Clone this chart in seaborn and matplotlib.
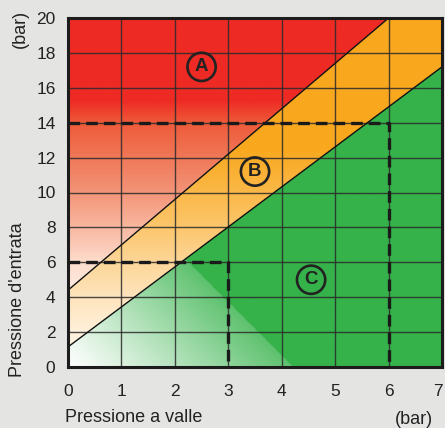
import numpy as np
import matplotlib.pyplot as plt
import seaborn as sns
from matplotlib.colors import to_rgb
from matplotlib.patches import Polygon
from matplotlib.transforms import ScaledTranslation

# -----------------------------
# Data (bar)
# -----------------------------
# boundary lines between zones: outlet pressure (x) vs inlet pressure (y)
upper_x = [0, 6]
upper_y = [4.4, 20]
lower_x = [0, 7]
lower_y = [1.15, 17.2]

# dashed reading examples: outlet -> inlet
guide_outlet = [3, 6]
guide_inlet = [6, 14]

zone_labels = ["A", "B", "C"]
zone_x = [2.5, 3.5, 4.55]
zone_y = [17.2, 11.2, 5.0]

x_ticks = [0, 1, 2, 3, 4, 5, 6, 7]
y_ticks = [0, 2, 4, 6, 8, 10, 12, 14, 16, 18, 20]

RED = "#ee2a24"
ORANGE = "#f9a81e"
GREEN = "#35b24a"
BG = "#e4e5e3"
INK = "#222222"

sns.set_theme(style="white")
plt.rcParams["font.family"] = ["Liberation Sans", "DejaVu Sans"]

fig = plt.figure(figsize=(4.45, 4.28), dpi=100, facecolor=BG)
ax = fig.add_axes([68 / 445, 1 - 367 / 428, 374 / 445, 349 / 428])
ax.set_facecolor(BG)

xmin, xmax = x_ticks[0], x_ticks[-1]
ymin, ymax = y_ticks[0], y_ticks[-1]

# -----------------------------
# Gradient fills clipped to each zone
# -----------------------------
gx = np.linspace(xmin, xmax, 500)
gy = np.linspace(ymin, ymax, 500)
X, Y = np.meshgrid(gx, gy)


def ramp(v, stops, colors):
    cols = np.array([to_rgb(c) for c in colors])
    out = np.stack([np.interp(v, stops, cols[:, k]) for k in range(3)], axis=-1)
    return out


# A: red fading through salmon to white
img_a = ramp(Y, [3.5, 6, 8, 10, 12, 14, 15.3],
             ["#fff3ec", "#fddccc", "#f8b8a0", "#f39478", "#f07858",
              "#ee5a3a", RED])
# B: orange fading to cream
img_b = ramp(Y, [0, 2, 4, 6, 8, 10, 12.5],
             ["#fffaf2", "#fff0da", "#fee4bc", "#fdd698", "#fcc66c",
              "#fbb848", ORANGE])
# C: diagonal fade from the origin, then solid green
u = 53.4 * X + 17.45 * Y
t_gr = np.where(u < 225, 0.8 * np.clip(u / 225, 0, 1) ** 1.1, 1.0)
img_c = 1 - t_gr[..., None] * (1 - np.array(to_rgb(GREEN)))

poly_a = [(upper_x[0], upper_y[0]), (upper_x[1], upper_y[1]), (xmin, ymax)]
poly_b = [(xmin, upper_y[0]), (upper_x[1], upper_y[1]), (xmax, ymax),
          (xmax, lower_y[1]), (xmin, lower_y[0])]
poly_c = [(xmin, ymin), (xmin, lower_y[0]), (xmax, lower_y[1]), (xmax, ymin)]

for img, poly in [(img_a, poly_a), (img_b, poly_b), (img_c, poly_c)]:
    patch = Polygon(poly, closed=True, facecolor="none", edgecolor="none")
    ax.add_patch(patch)
    im = ax.imshow(img, extent=[xmin, xmax, ymin, ymax], origin="lower",
                   aspect="auto", zorder=0, interpolation="bilinear")
    im.set_clip_path(patch)

# -----------------------------
# Boundary lines and dashed guides
# -----------------------------
sns.lineplot(x=upper_x, y=upper_y, ax=ax, color="#111111", lw=1.0, zorder=3)
sns.lineplot(x=lower_x, y=lower_y, ax=ax, color="#111111", lw=1.0, zorder=3)

for gxo, gyi in zip(guide_outlet, guide_inlet):
    sns.lineplot(x=[xmin, gxo, gxo], y=[gyi, gyi, ymin], ax=ax, sort=False,
                 estimator=None, color="#1a1a1a", lw=2.4, zorder=4,
                 linestyle=(0, (3.5, 1.8)))

for lab, lx, ly in zip(zone_labels, zone_x, zone_y):
    ax.text(lx, ly, lab, ha="center", va="center", fontsize=13.5,
            fontweight="bold", color=INK, zorder=5,
            bbox=dict(boxstyle="circle,pad=0.3", facecolor="none",
                      edgecolor=INK, linewidth=1.9))

# -----------------------------
# Axes styling
# -----------------------------
ax.set_xlim(xmin, xmax)
ax.set_ylim(ymin, ymax)
ax.set_xticks(x_ticks)
ax.set_yticks(y_ticks)
ax.set_axisbelow(False)
ax.grid(True, color="#2a2a2a", lw=1.0, alpha=0.85)
ax.tick_params(axis="both", length=0, labelsize=12.5, labelcolor=INK)
ax.tick_params(axis="x", pad=12)
ax.tick_params(axis="y", pad=9)
last = ax.get_xticklabels()[-1]
last.set_transform(last.get_transform() + ScaledTranslation(-4 / 100, 0, fig.dpi_scale_trans))
for s in ax.spines.values():
    s.set_visible(True)
    s.set_color("#1c1c1c")
    s.set_linewidth(2.2)
    s.set_zorder(6)

fig.text(18 / 445, 1 - 300 / 428, "Pressione d'entrata", rotation=90,
         ha="center", va="center", fontsize=13, color=INK)
fig.text(20 / 445, 1 - 29 / 428, "(bar)", rotation=90,
         ha="center", va="center", fontsize=13, color=INK)
fig.text(65 / 445, 1 - 418 / 428, "Pressione a valle",
         ha="left", va="center", fontsize=13, color=INK)
fig.text(414 / 445, 1 - 420 / 428, "(bar)",
         ha="center", va="center", fontsize=13, color=INK)

fig.savefig("out.png", dpi=100, facecolor=BG)
